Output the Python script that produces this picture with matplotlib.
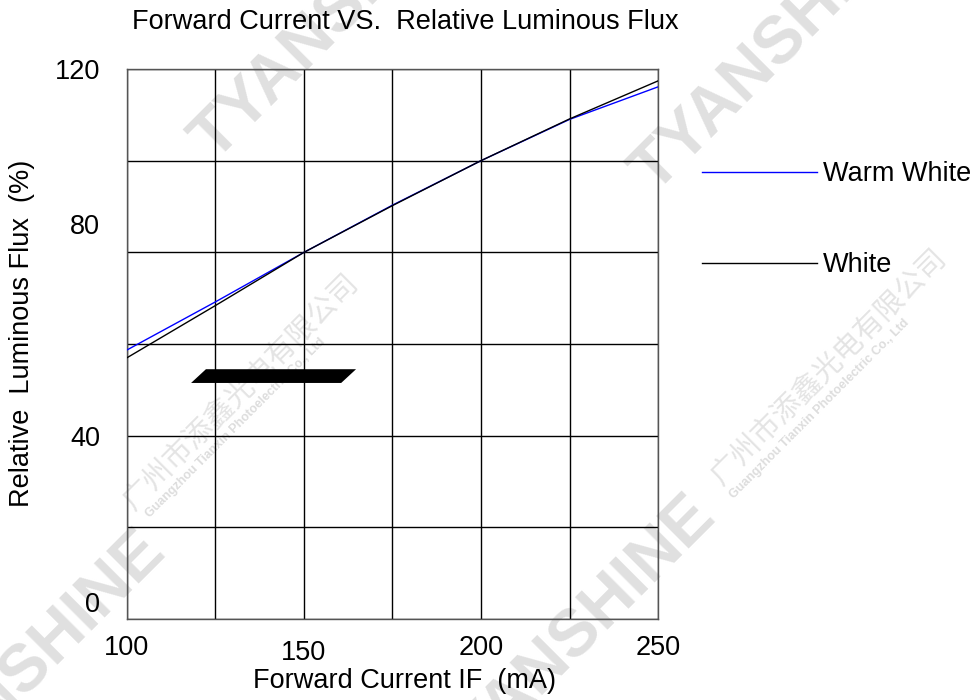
import matplotlib
matplotlib.use("Agg")
import matplotlib.pyplot as plt
from matplotlib.transforms import ScaledTranslation

# ---- data ----
current_ma = [100, 125, 150, 175, 200, 225, 250]
warm_white = [58.7, 69.2, 80.0, 90.3, 100.0, 109.0, 116.1]
white = [57.0, 68.4, 80.0, 90.2, 100.0, 109.1, 117.4]
series_labels = ["Warm White", "White"]
x_ticks = [100, 150, 200, 250]
y_ticks = [0, 40, 80, 120]
# stray filled shape present on the chart (data coords)
blob_x = [122.3, 164.7, 160.5, 118.1]
blob_y = [54.5, 54.5, 51.5, 51.5]

W, H = 979, 700
FONT = "Liberation Sans"
FS = 19.5

fig = plt.figure(figsize=(W / 100, H / 100), dpi=100)
fig.patch.set_facecolor("white")


def fx(px):
    return px / W


def fy(py):
    return 1 - py / H


# ---- watermarks (behind chart) ----
wm_kw = dict(rotation=45, rotation_mode="anchor", ha="left", va="baseline",
             fontfamily=FONT, fontweight="bold", zorder=-5)
for (px, py) in [(215, 163), (655, 195), (-100, 823), (450, 788)]:
    fig.text(fx(px), fy(py), "TYANSHINE", fontsize=48, color="#e0e0e0", **wm_kw)
for (px, py) in [(134, 511), (722, 486)]:
    fig.text(fx(px), fy(py), "广州市添鑫光电有限公司", fontsize=21, color="#e4e4e4",
             rotation=45, rotation_mode="anchor", ha="left", va="baseline",
             fontfamily=["Noto Sans CJK SC", "DejaVu Sans"], zorder=-5)
for (px, py) in [(150, 518), (734, 499)]:
    fig.text(fx(px), fy(py), "Guangzhou Tianxin Photoelectric Co., Ltd", fontsize=9,
             color="#dddddd", **wm_kw)

# ---- axes ----
ax = fig.add_axes([fx(127), fy(619), fx(658) - fx(127), (619 - 69) / H])
ax.patch.set_visible(False)

ax.plot(current_ma, warm_white, color="#0000ff", lw=1.0, label=series_labels[0], zorder=3)
ax.plot(current_ma, white, color="black", lw=1.0, label=series_labels[1], zorder=3)
ax.fill(blob_x, blob_y, color="black", lw=0, zorder=3)

ax.set_xlim(100, 250)
ax.set_ylim(0, 120)
ax.set_xticks([100, 125, 150, 175, 200, 225, 250])
ax.set_yticks([0, 20, 40, 60, 80, 100, 120])
ax.grid(True, color="black", lw=1.0)
ax.tick_params(length=0)

xt = ax.get_xticks()
ax.set_xticklabels([f"{int(v)}" if v in x_ticks else "" for v in xt],
                   fontfamily=FONT, fontsize=FS)
yt = ax.get_yticks()
ax.set_yticklabels([f"{int(v)}" if v in y_ticks else "" for v in yt],
                   fontfamily=FONT, fontsize=FS)
ax.tick_params(axis="x", pad=11.5)
ax.tick_params(axis="y", pad=19.5)

for sp in ax.spines.values():
    sp.set_color("#555555")
    sp.set_linewidth(1.0)

# label nudges seen in the reference
for tick in ax.yaxis.get_major_ticks():
    lbl = tick.label1
    if lbl.get_text() == "0":
        lbl.set_transform(lbl.get_transform() + ScaledTranslation(0, 17 / 100, fig.dpi_scale_trans))
    if lbl.get_text() == "80":
        lbl.set_transform(lbl.get_transform() + ScaledTranslation(0, 28 / 100, fig.dpi_scale_trans))
for tick in ax.xaxis.get_major_ticks():
    lbl = tick.label1
    if lbl.get_text() == "150":
        lbl.set_transform(lbl.get_transform() + ScaledTranslation(0, -5 / 100, fig.dpi_scale_trans))

# ---- titles ----
fig.text(fx(405), fy(22), "Forward Current VS.  Relative Luminous Flux",
         ha="center", va="center", fontfamily=FONT, fontsize=FS)
fig.text(fx(405), fy(681), "Forward Current IF  (mA)",
         ha="center", va="center", fontfamily=FONT, fontsize=FS)
fig.text(fx(22), fy(333), "Relative  Luminous Flux  (%)", rotation=90,
         ha="center", va="center", fontfamily=FONT, fontsize=FS)

# ---- legend ----
leg = ax.legend(loc="upper left", bbox_to_anchor=(fx(702), fy(161)),
                bbox_transform=fig.transFigure, frameon=False,
                prop={"family": FONT, "size": FS}, handlelength=4.26,
                handletextpad=0.22, labelspacing=2.4, borderpad=0,
                borderaxespad=0)

fig.savefig("out.png", dpi=100, facecolor="white")
